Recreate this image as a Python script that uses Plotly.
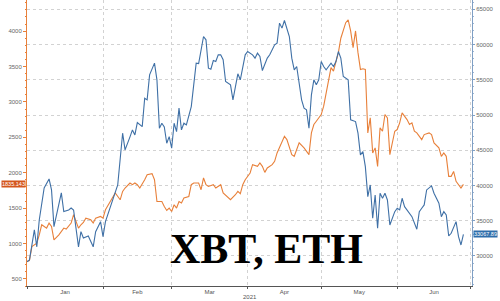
import plotly.graph_objects as go

btc_dates = ["2021-01-01","2021-01-02","2021-01-04","2021-01-05","2021-01-06","2021-01-08","2021-01-10","2021-01-11","2021-01-12","2021-01-15","2021-01-16","2021-01-18","2021-01-19","2021-01-20","2021-01-22","2021-01-23","2021-01-24","2021-01-26","2021-01-28","2021-01-29","2021-01-31",
"2021-02-01","2021-02-02","2021-02-05","2021-02-07","2021-02-09","2021-02-10","2021-02-12","2021-02-13","2021-02-14","2021-02-15","2021-02-17","2021-02-18","2021-02-19","2021-02-20","2021-02-22","2021-02-23","2021-02-24","2021-02-25","2021-02-26","2021-02-27","2021-02-28",
"2021-03-01","2021-03-02","2021-03-03","2021-03-04","2021-03-05","2021-03-06","2021-03-07","2021-03-09","2021-03-11","2021-03-12","2021-03-13","2021-03-14","2021-03-15","2021-03-16","2021-03-17","2021-03-18","2021-03-19","2021-03-20","2021-03-21","2021-03-22","2021-03-23","2021-03-25","2021-03-26","2021-03-28","2021-03-29","2021-03-31",
"2021-04-01","2021-04-03","2021-04-04","2021-04-05","2021-04-06","2021-04-07","2021-04-09","2021-04-10","2021-04-12","2021-04-13","2021-04-14","2021-04-15","2021-04-16","2021-04-17","2021-04-18","2021-04-19","2021-04-20","2021-04-21","2021-04-22","2021-04-23","2021-04-24","2021-04-25","2021-04-26","2021-04-27","2021-04-28","2021-04-29","2021-04-30",
"2021-05-01","2021-05-02","2021-05-03","2021-05-04","2021-05-05","2021-05-06","2021-05-07","2021-05-08","2021-05-09","2021-05-10","2021-05-12","2021-05-13","2021-05-15","2021-05-16","2021-05-17","2021-05-18","2021-05-19","2021-05-20","2021-05-21","2021-05-22","2021-05-23","2021-05-24","2021-05-25","2021-05-26","2021-05-27","2021-05-28","2021-05-29","2021-05-31",
"2021-06-01","2021-06-02","2021-06-03","2021-06-04","2021-06-06","2021-06-07","2021-06-09","2021-06-10","2021-06-11","2021-06-12","2021-06-13","2021-06-15","2021-06-16","2021-06-18","2021-06-19","2021-06-20","2021-06-21","2021-06-22","2021-06-23","2021-06-25","2021-06-26","2021-06-27","2021-06-28"]
btc_vals = [29190,29430,33700,31300,35100,39650,40930,39370,34160,38950,36300,36530,36810,36530,31300,33450,32550,32840,31300,33450,34870,
32740,34870,37950,40080,47420,45050,46900,47890,47180,48930,48360,52390,52150,55700,57360,54990,48130,48840,48320,46000,46940,
45290,48840,47650,50970,47890,48840,48600,51200,57360,57300,59010,61140,60670,56650,56510,57730,57590,58540,58540,57840,54750,54280,52150,55850,55000,58540,
59010,58540,58070,58780,58300,56310,58070,58540,59960,60200,63040,62330,63410,62330,61140,58070,56410,56880,54520,52150,50970,50730,48130,52860,54990,54280,54990,
57590,56880,56410,56880,57360,56880,57590,59010,58070,55460,54990,49310,49070,47420,44340,44810,42680,38420,40080,35350,38660,33930,38900,38190,38900,37950,34400,36290,
36770,36530,38190,37000,36060,35580,33790,36290,36770,37240,39370,39940,38900,37480,35580,36290,35820,32840,33220,34870,32740,31560,33067.89]

eth_dates = ["2021-01-01","2021-01-02","2021-01-03","2021-01-05","2021-01-06","2021-01-07","2021-01-09","2021-01-10","2021-01-11","2021-01-12","2021-01-14","2021-01-15","2021-01-16","2021-01-17","2021-01-18","2021-01-19","2021-01-20","2021-01-22","2021-01-23","2021-01-24","2021-01-25","2021-01-27","2021-01-28","2021-01-29","2021-01-31",
"2021-02-01","2021-02-02","2021-02-04","2021-02-05","2021-02-06","2021-02-08","2021-02-09","2021-02-10","2021-02-12","2021-02-13","2021-02-14","2021-02-15","2021-02-16","2021-02-18","2021-02-19","2021-02-21","2021-02-22","2021-02-23","2021-02-25","2021-02-26","2021-02-27","2021-02-28",
"2021-03-01","2021-03-02","2021-03-03","2021-03-04","2021-03-05","2021-03-06","2021-03-08","2021-03-09","2021-03-10","2021-03-12","2021-03-13","2021-03-14","2021-03-15","2021-03-16","2021-03-18","2021-03-19","2021-03-21","2021-03-22","2021-03-24","2021-03-25","2021-03-27","2021-03-28","2021-03-29","2021-03-30","2021-03-31",
"2021-04-02","2021-04-03","2021-04-05","2021-04-06","2021-04-07","2021-04-08","2021-04-09","2021-04-11","2021-04-12","2021-04-13","2021-04-15","2021-04-16","2021-04-17","2021-04-18","2021-04-19","2021-04-20","2021-04-21","2021-04-22","2021-04-24","2021-04-25","2021-04-26","2021-04-27","2021-04-28","2021-04-29",
"2021-05-01","2021-05-02","2021-05-03","2021-05-04","2021-05-05","2021-05-06","2021-05-08","2021-05-09","2021-05-11","2021-05-12","2021-05-13","2021-05-14","2021-05-15","2021-05-16","2021-05-17","2021-05-18","2021-05-19","2021-05-20","2021-05-21","2021-05-22","2021-05-23","2021-05-24","2021-05-25","2021-05-26","2021-05-27","2021-05-28","2021-05-29","2021-05-31",
"2021-06-01","2021-06-02","2021-06-03","2021-06-05","2021-06-06","2021-06-07","2021-06-08","2021-06-09","2021-06-11","2021-06-12","2021-06-14","2021-06-15","2021-06-16","2021-06-18","2021-06-19","2021-06-20","2021-06-21","2021-06-22","2021-06-23","2021-06-24","2021-06-25","2021-06-27","2021-06-28"]
eth_vals = [745,759,957,1005,1123,1265,1218,1289,1241,1052,1123,1170,1218,1204,1241,1289,1406,1218,1265,1297,1359,1335,1289,1359,1382,
1359,1477,1594,1665,1713,1618,1736,1784,1855,1831,1855,1831,1784,1902,1973,1987,1902,1594,1594,1524,1467,1501,
1453,1548,1501,1594,1572,1643,1665,1831,1855,1855,1760,1926,1831,1807,1831,1784,1831,1714,1643,1619,1689,1736,1704,1831,1902,
1997,2114,2090,2138,2090,2005,2068,2114,2161,2280,2422,2515,2468,2373,2256,2232,2327,2422,2351,2303,2256,2563,2681,2727,
2822,2940,3130,3318,3484,3435,3696,3900,4120,4160,4003,3767,4003,3696,3459,3469,3459,2563,2775,2280,2351,2090,2634,2586,2822,2775,2256,2586,
2610,2705,2846,2751,2681,2705,2586,2563,2468,2539,2563,2539,2422,2351,2232,2280,2232,1949,1949,2019,1878,1784,1835.143]

eth_ticks = [500, 1000, 1500, 2000, 2500, 3000, 3500, 4000]
btc_ticks = [30000, 35000, 40000, 45000, 50000, 55000, 60000, 65000]
btc_ticktext = [str(v) for v in btc_ticks]

ORANGE = "#E8803A"
BLUE = "#3F70A6"

fig = go.Figure()
fig.add_trace(go.Scatter(x=eth_dates, y=eth_vals, mode="lines", line=dict(color=ORANGE, width=1.1), yaxis="y", name="ETH"))
fig.add_trace(go.Scatter(x=btc_dates, y=btc_vals, mode="lines", line=dict(color=BLUE, width=1.1), yaxis="y2", name="XBT"))

fig.update_layout(
    width=500, height=301,
    margin=dict(l=27, r=28, t=0, b=15),
    paper_bgcolor="white", plot_bgcolor="white",
    showlegend=False,
    font=dict(family="Liberation Sans, Arial, sans-serif", size=6, color="#666666"),
    xaxis=dict(
        type="date", range=["2021-01-01", "2021-07-01 12:00"],
        dtick="M1", tick0="2021-01-01", ticklabelmode="period", tickformat="%b",
        showgrid=True, gridcolor="#d2d2d2", griddash="dot", gridwidth=1,
        showline=True, linecolor="#555555", linewidth=1,
        ticks="outside", ticklen=2, tickcolor="#555555", ticklabelstandoff=-2,
        tickfont=dict(size=6, color="#555555"), zeroline=False,
    ),
    yaxis=dict(
        range=[400, 4440], tickvals=eth_ticks,
        showgrid=False, zeroline=False,
        showline=True, linecolor=ORANGE, linewidth=1,
        ticks="outside", ticklen=3, tickcolor=ORANGE,
        tickfont=dict(size=6, color="#666666"),
        minor=dict(ticks="outside", ticklen=1, dtick=100, tickcolor=ORANGE),
    ),
    yaxis2=dict(
        range=[25740, 66320], tickvals=btc_ticks, ticktext=btc_ticktext,
        overlaying="y", side="right",
        showgrid=True, gridcolor="#d2d2d2", griddash="dot", gridwidth=1, zeroline=False,
        showline=True, linecolor="#7f9fc4", linewidth=1,
        ticks="outside", ticklen=2, tickcolor="#7f9fc4",
        tickfont=dict(size=6, color="#666666"),
        minor=dict(ticks="outside", ticklen=1, dtick=1000, tickcolor="#9fb6d2"),
    ),
)

fig.add_annotation(text="<b>XBT, ETH</b>", xref="paper", yref="paper", x=0.539, y=0.13,
                   xanchor="center", yanchor="middle", showarrow=False,
                   font=dict(family="Liberation Serif, Times New Roman, serif", size=42, color="black"))
fig.add_annotation(text="2021", xref="paper", yref="paper", x=0.501, y=-0.04,
                   xanchor="center", yanchor="middle", showarrow=False,
                   font=dict(size=6, color="#555555"))
fig.add_annotation(text="1835.143", xref="paper", yref="y", x=0, y=eth_vals[-1],
                   xanchor="right", yanchor="middle", xshift=-1, showarrow=False,
                   bgcolor="#D4561D", borderpad=0, font=dict(size=5.5, color="white"))
fig.add_annotation(text="33067.89", xref="paper", yref="y2", x=1, y=btc_vals[-1],
                   xanchor="left", yanchor="middle", xshift=1, showarrow=False,
                   bgcolor="#2E6DAA", borderpad=0, font=dict(size=5.5, color="white"))

fig.write_html("out.html")
